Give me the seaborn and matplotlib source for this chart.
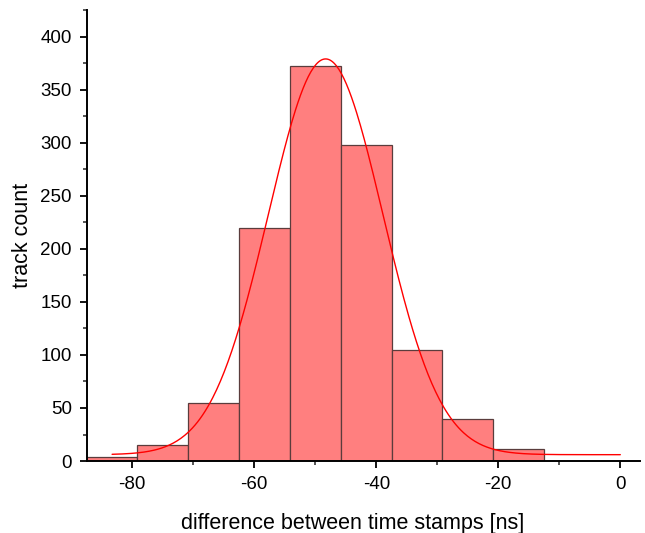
import numpy as np
import pandas as pd
import seaborn as sns
import matplotlib
matplotlib.use("Agg")
import matplotlib.pyplot as plt
from matplotlib.ticker import MultipleLocator

# histogram
bin_edges = [-87.5, -79.17, -70.83, -62.5, -54.17, -45.83, -37.5, -29.17, -20.83, -12.5]
counts = [4, 15, 55, 220, 372, 298, 105, 40, 11]

# gauss fit parameters (baseline, centre, sigma, height)
fit_y0 = 6.0
fit_xc = -48.3
fit_sigma = 9.4
fit_height = 373.0
fit_x_start = -83.3
fit_x_end = 0.0

centres = [(bin_edges[i] + bin_edges[i + 1]) / 2 for i in range(len(counts))]
df = pd.DataFrame({"dt": centres, "n": counts})

sns.set_style("ticks")
plt.rcParams["font.family"] = ["Liberation Sans", "DejaVu Sans"]
plt.rcParams["axes.unicode_minus"] = False

fig = plt.figure(figsize=(6.45, 5.33), dpi=100)
ax = fig.add_axes([0.135, 0.135, 0.857, 0.846])

sns.histplot(data=df, x="dt", weights="n", bins=bin_edges, ax=ax,
             color="#ff7f7f", alpha=1.0, edgecolor="#5a3c3c", linewidth=0.9)

xs = np.linspace(fit_x_start, fit_x_end, 400)
ys = fit_y0 + fit_height * np.exp(-((xs - fit_xc) ** 2) / (2 * fit_sigma ** 2))
ax.plot(xs, ys, color="red", lw=1.0)

ax.set_xlim(-87.4, 3.2)
ax.set_ylim(0, 425)
ax.xaxis.set_major_locator(MultipleLocator(20))
ax.xaxis.set_minor_locator(MultipleLocator(10))
ax.yaxis.set_major_locator(MultipleLocator(50))
ax.yaxis.set_minor_locator(MultipleLocator(25))
ax.tick_params(which="major", direction="out", length=5, width=1.3,
               labelsize=13.5, pad=6, colors="black")
ax.tick_params(which="minor", direction="out", length=3, width=1.1)

sns.despine(ax=ax)
for s in ["left", "bottom"]:
    ax.spines[s].set_linewidth(1.4)
    ax.spines[s].set_color("black")

ax.set_xlabel("difference between time stamps [ns]", fontsize=15.5, color="black")
ax.set_ylabel("track count", fontsize=15.5, labelpad=5, color="black")
ax.xaxis.set_label_coords(0.48, -0.115)

fig.savefig("out.png", dpi=100)
